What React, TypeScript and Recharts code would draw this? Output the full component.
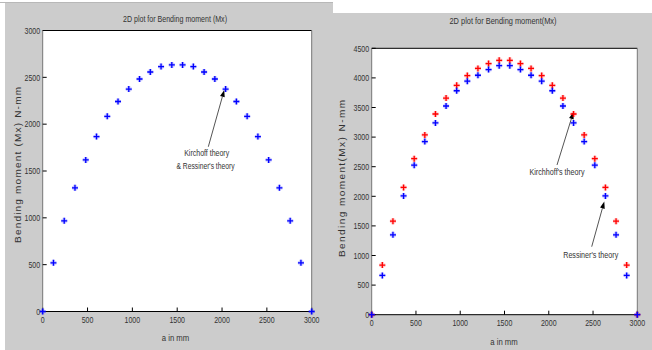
import {
  CartesianGrid,
  ReferenceDot,
  ReferenceLine,
  Scatter,
  ScatterChart,
  XAxis,
  YAxis
} from "recharts"

// a (mm) sampled along the plate
const aInMm = [
  0, 120, 240, 360, 480, 600, 720, 840, 960, 1080, 1200, 1320, 1440,
  1560, 1680, 1800, 1920, 2040, 2160, 2280, 2400, 2520, 2640, 2760, 2880, 3000
]

// left plot: both theories give the same Mx
const sameMoment = [
  0, 520, 968, 1320, 1618, 1868, 2084, 2242, 2375, 2482, 2557, 2615, 2633,
  2633, 2615, 2557, 2482, 2375, 2242, 2084, 1868, 1618, 1320, 968, 520, 0
]

// right plot
const kirchhoffMoment = [
  0, 838, 1580, 2150, 2635, 3037, 3390, 3660, 3875, 4040, 4160, 4242, 4297,
  4297, 4242, 4160, 4040, 3875, 3660, 3390, 3037, 2635, 2150, 1580, 838, 0
]
const ressinerMoment = [
  0, 664, 1349, 2007, 2525, 2925, 3240, 3525, 3783, 3945, 4045, 4140, 4207,
  4207, 4140, 4045, 3945, 3783, 3525, 3240, 2925, 2525, 2007, 1349, 664, 0
]

const xTicks = [0, 500, 1000, 1500, 2000, 2500, 3000]
const leftYTicks = [0, 500, 1000, 1500, 2000, 2500, 3000]
const rightYTicks = [0, 500, 1000, 1500, 2000, 2500, 3000, 3500, 4000, 4500]

// annotation arrows, in data units
const leftNotes = [
  { from: [1847, 1759], to: [2025, 2365], texts: [
    { at: [1829, 1692], s: "Kirchoff theory", w: 45 },
    { at: [1816, 1553], s: "& Ressiner's theory", w: 58 }
  ] }
]
const rightNotes = [
  { from: [2093, 2529], to: [2279, 3424], texts: [{ at: [2093, 2419], s: "Kirchhoff's theory", w: 55 }] },
  { from: [2485, 1149], to: [2627, 1912], texts: [{ at: [2474, 1008], s: "Ressiner's theory", w: 55 }] }
]

const narrow = "'Liberation Sans Narrow', 'Arial Narrow', 'Liberation Sans', Arial, sans-serif"
const textColor = "#333"

const leftData = aInMm.map((a, i) => ({ a, m: sameMoment[i] }))
const kirchhoffData = aInMm.map((a, i) => ({ a, m: kirchhoffMoment[i] }))
const ressinerData = aInMm.map((a, i) => ({ a, m: ressinerMoment[i] }))

const plus = (color: string) => (props: any) => {
  const { cx, cy } = props
  if (cx == null || cy == null) return <g />
  const d = `M${cx - 3},${cy}h6M${cx},${cy - 3}v6`
  return (
    <g>
      <path d={d} stroke={color} strokeOpacity={0.25} strokeWidth={3.2} fill="none" />
      <path d={d} stroke={color} strokeWidth={1.3} fill="none" />
    </g>
  )
}

const arrow = (props: any) => {
  const { x1, y1, x2, y2 } = props
  const ang = Math.atan2(y2 - y1, x2 - x1)
  const L = 7, W = 2.4
  const bx = x2 - L * Math.cos(ang), by = y2 - L * Math.sin(ang)
  const px = -Math.sin(ang) * W, py = Math.cos(ang) * W
  return (
    <g>
      <line x1={x1} y1={y1} x2={bx} y2={by} stroke="#555" strokeWidth={1} />
      <polygon points={`${x2},${y2} ${bx + px},${by + py} ${bx - px},${by - py}`} fill="#000" />
    </g>
  )
}

const noteText = (s: string, w: number) => (props: any) => (
  <text x={props.cx} y={props.cy} dy="0.35em" textAnchor="middle" fontSize={9.5}
    fontFamily={narrow} fill={textColor} textLength={w} lengthAdjust="spacingAndGlyphs">{s}</text>
)

// squeezed tick labels, roughly 3.9px per digit like the source image
const xTick = (props: any) => {
  const { x, y, payload } = props
  const s = String(payload.value)
  return (
    <text x={x} y={y} dy="0.75em" textAnchor="middle" fontSize={9.5} fontFamily={narrow}
      fill={textColor} textLength={3.9 * s.length} lengthAdjust="spacingAndGlyphs">{s}</text>
  )
}
const yTick = (props: any) => {
  const { x, y, payload } = props
  const s = String(payload.value)
  return (
    <text x={x} y={y} dy="0.35em" textAnchor="end" fontSize={9.5} fontFamily={narrow}
      fill={textColor} textLength={3.9 * s.length} lengthAdjust="spacingAndGlyphs">{s}</text>
  )
}

function renderNotes(notes: typeof leftNotes) {
  const out: any[] = []
  notes.forEach((n, i) => {
    out.push(
      <ReferenceLine key={`l${i}`} segment={[{ x: n.from[0], y: n.from[1] }, { x: n.to[0], y: n.to[1] }]}
        shape={arrow} />
    )
    n.texts.forEach((t, j) => {
      out.push(
        <ReferenceDot key={`t${i}${j}`} x={t.at[0]} y={t.at[1]} r={0} shape={noteText(t.s, t.w)} />
      )
    })
  })
  return out
}

function frame(ymax: number, yTicks: number[]) {
  return [
    <CartesianGrid key="g" fill="#fff" horizontal={false} vertical={false} stroke="none" />,
    <XAxis key="xb" dataKey="a" type="number" domain={[0, 3000]} ticks={xTicks} height={1}
      tickSize={-4} tickMargin={8.5} interval={0} tick={xTick}
      axisLine={{ stroke: "#000" }} tickLine={{ stroke: "#000" }} />,
    <XAxis key="xt" xAxisId="top" orientation="top" type="number" domain={[0, 3000]} ticks={xTicks}
      height={1} tickSize={-4} tick={false} interval={0}
      axisLine={{ stroke: "#000" }} tickLine={{ stroke: "#000" }} />,
    <YAxis key="yl" dataKey="m" type="number" domain={[0, ymax]} ticks={yTicks} width={1}
      tickSize={-4} tickMargin={6.6} interval={0} tick={yTick}
      axisLine={{ stroke: "#777" }} tickLine={{ stroke: "#000" }} />,
    <YAxis key="yr" yAxisId="right" orientation="right" type="number" domain={[0, ymax]} ticks={yTicks}
      width={1} tickSize={-4} tick={false} interval={0}
      axisLine={{ stroke: "#777" }} tickLine={{ stroke: "#000" }} />
  ]
}

export default function App() {
  return (
    <div style={{ position: "relative", width: 652, height: 350, background: "#fff", overflow: "hidden" }}>
      <style>{`body{margin:0}`}</style>
      <svg width={652} height={350} style={{ position: "absolute", left: 0, top: 0 }}>
        <rect x={0} y={2} width={333} height={1} fill="#b8b8b8" />
        <rect x={5} y={3} width={328} height={347} fill="#cccccc" />
        <rect x={333} y={13} width={319} height={337} fill="#cccccc" />
        <g fontFamily={narrow} fill={textColor} fontSize={9} textAnchor="middle" lengthAdjust="spacingAndGlyphs">
          <text x={175} y={18.5} dy="0.35em" textLength={104} lengthAdjust="spacingAndGlyphs">2D plot for Bending moment (Mx)</text>
          <text x={503} y={21} dy="0.35em" textLength={107} lengthAdjust="spacingAndGlyphs">2D plot for Bending moment(Mx)</text>
          <text x={175.5} y={338} dy="0.35em" textLength={27.5} lengthAdjust="spacingAndGlyphs">a in mm</text>
          <text x={504} y={342} dy="0.35em" textLength={27.5} lengthAdjust="spacingAndGlyphs">a in mm</text>
        </g>
        <g fontFamily="'Liberation Sans', Arial, sans-serif" fill={textColor} fontSize={10} textAnchor="middle">
          <text transform="translate(18,165) scale(0.85,1) rotate(-90)" dy="0.35em"
            textLength={156} lengthAdjust="spacing">Bending moment (Mx) N-mm</text>
          <text transform="translate(342,178.5) scale(0.85,1) rotate(-90)" dy="0.35em"
            textLength={157} lengthAdjust="spacing">Bending moment(Mx) N-mm</text>
        </g>
      </svg>

      <div style={{ position: "absolute", left: 0, top: 0 }}>
        <ScatterChart width={330} height={350}
          margin={{ top: 29.5, left: 41.7, right: 17.3, bottom: 37.5 }}>
          {frame(3000, leftYTicks)}
          <Scatter data={leftData} shape={plus("#0000ff")} isAnimationActive={false} />
          {renderNotes(leftNotes)}
        </ScatterChart>
      </div>

      <div style={{ position: "absolute", left: 330, top: 0 }}>
        <ScatterChart width={322} height={350}
          margin={{ top: 47.3, left: 40.7, right: 13.7, bottom: 34.3 }}>
          {frame(4500, rightYTicks)}
          <Scatter data={kirchhoffData} shape={plus("#ff0000")} isAnimationActive={false} />
          <Scatter data={ressinerData} shape={plus("#0000ff")} isAnimationActive={false} />
          {renderNotes(rightNotes)}
        </ScatterChart>
      </div>
    </div>
  )
}
